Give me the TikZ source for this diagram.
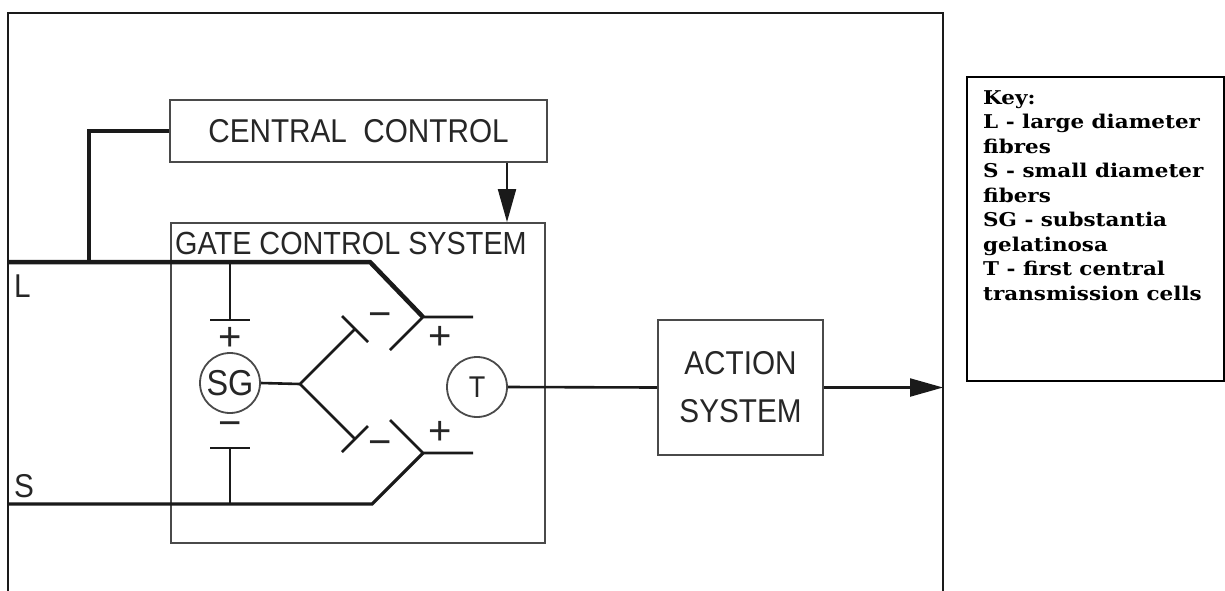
\documentclass[tikz,border=0pt]{standalone}
\usepackage{fontspec}
\setmainfont{Liberation Sans}
\newfontfamily\diagfont[FakeStretch=0.9]{Liberation Sans}
\newfontfamily\signfont{Liberation Sans}
\newfontfamily\keyfont[FakeStretch=1.13]{DejaVu Serif}
\usetikzlibrary{arrows.meta}
\definecolor{ink}{HTML}{1A1A1A}
\definecolor{boxline}{HTML}{4A4A4A}
\definecolor{txt}{HTML}{262626}
\begin{document}
\begin{tikzpicture}[x=1pt,y=-1pt,
  box/.style={draw=boxline,line width=1.8pt,inner sep=0pt},
  lbl/.style={font=\diagfont\fontsize{33}{48}\selectfont,text=txt,inner sep=0pt,align=center},
  fibreL/.style={draw=ink,line width=4.5pt},
  fibreS/.style={draw=ink,line width=3.2pt},
  thinline/.style={draw=ink,line width=2.6pt},
  sign/.style={font=\signfont\fontsize{40}{40}\selectfont,text=txt,inner sep=0pt},
  cell/.style={circle,draw=boxline,line width=1.8pt,minimum size=60pt,inner sep=0pt},
  headarrow/.style={-{Triangle[length=33pt,width=18pt]}}
]
\useasboundingbox (0,0) rectangle (1225,590);
\fill[white] (0,0) rectangle (1225,590);
% outer frame
\draw[ink,line width=2.8pt] (8,592) -- (8,13) -- (943,13) -- (943,592);
% boxes
\node[box,lbl,minimum width=377pt,minimum height=62pt] (cc) at (358.5,131) {CENTRAL\ \ CONTROL};
\node[box,minimum width=374pt,minimum height=320pt] (gcs) at (358,383) {};
\node[lbl,font=\diagfont\fontsize{32}{32}\selectfont,anchor=base west] (gcslabel) at (175,254) {GATE CONTROL SYSTEM};
\node[box,lbl,minimum width=165pt,minimum height=135pt] (act) at (740.5,387.5) {ACTION\\SYSTEM};
\node[cell,lbl,font=\diagfont\fontsize{36}{36}\selectfont] (sg) at (230,383) {SG};
\node[cell,lbl,font=\diagfont\fontsize{30}{30}\selectfont] (t) at (477,387) {T};
% fibre labels
\node[lbl,anchor=base west] (lL) at (14,297) {L};
\node[lbl,anchor=base west] (lS) at (14,497) {S};
% coordinates
\coordinate (Lin) at (8,262);
\coordinate (Lbend) at (370,262);
\coordinate (Lv) at (423,317);
\coordinate (Lout) at (473,317);
\coordinate (Lex) at (390,350);
\coordinate (Sin) at (8,504);
\coordinate (Sbend) at (372,504);
\coordinate (Sv) at (423,453);
\coordinate (Sout) at (473,453);
\coordinate (Sex) at (390,420);
\coordinate (ccj) at (89,262);
\coordinate (sgL) at (230,262);
\coordinate (sgLb) at (230,320);
\coordinate (sgLb1) at (210,320);
\coordinate (sgLb2) at (250,320);
\coordinate (sgS) at (230,504);
\coordinate (sgSb) at (230,448);
\coordinate (sgSb1) at (210,448);
\coordinate (sgSb2) at (250,448);
\coordinate (br) at (300,384);
\coordinate (bu) at (355,329);
\coordinate (bu1) at (342,316);
\coordinate (bu2) at (368,342);
\coordinate (bd) at (355,439);
\coordinate (bd1) at (342,452);
\coordinate (bd2) at (368,426);
\coordinate (arrx) at (507,0);
\coordinate (out) at (943,387.5);
% central control to L fibre
\draw[fibreL] (cc.west) -| (ccj);
% L fibre
\draw[fibreL] (Lin) -- (Lbend) -- (Lv);
\draw[thinline] (Lex) -- (Lv) -- (Lout);
% S fibre
\draw[fibreS] (Sin) -- (Sbend) -- (Sv);
\draw[thinline] (Sex) -- (Sv) -- (Sout);
% SG inputs
\draw[thinline] (sgL) -- (sgLb);
\draw[thinline] (sgLb1) -- (sgLb2);
\draw[thinline] (sgS) -- (sgSb);
\draw[thinline] (sgSb1) -- (sgSb2);
% SG outputs
\draw[thinline] (sg.east) -- (br) -- (bu);
\draw[thinline] (br) -- (bd);
\draw[thinline] (bu1) -- (bu2);
\draw[thinline] (bd1) -- (bd2);
% signs
\node[sign] (p1) at (230,339) {+};
\node[sign] (m1) at (230,429) {−};
\node[sign] (m2) at (380,320) {−};
\node[sign] (m3) at (380,448) {−};
\node[sign] (p2) at (440,338) {+};
\node[sign] (p3) at (440,433) {+};
% central control arrow
\draw[ink,line width=2pt,headarrow] (cc.south -| arrx) -- (gcs.north -| arrx);
% T output
\draw[thinline] (t.east) -- (act.west);
\draw[ink,line width=2.2pt,headarrow] (act.east) -- (out);
% key
\node[draw=black,line width=1.2pt,minimum width=257pt,minimum height=304pt,inner sep=0pt] (keybox) at (1095.5,229) {};
\node[anchor=north west,inner sep=0pt,align=left,font=\keyfont\bfseries\fontsize{19}{24.5}\selectfont] (keytext) at (983,90)
 {Key:\\L - large diameter\\fibres\\S - small diameter\\fibers\\SG - substantia\\gelatinosa\\T - first central\\transmission cells};
\end{tikzpicture}
\end{document}
